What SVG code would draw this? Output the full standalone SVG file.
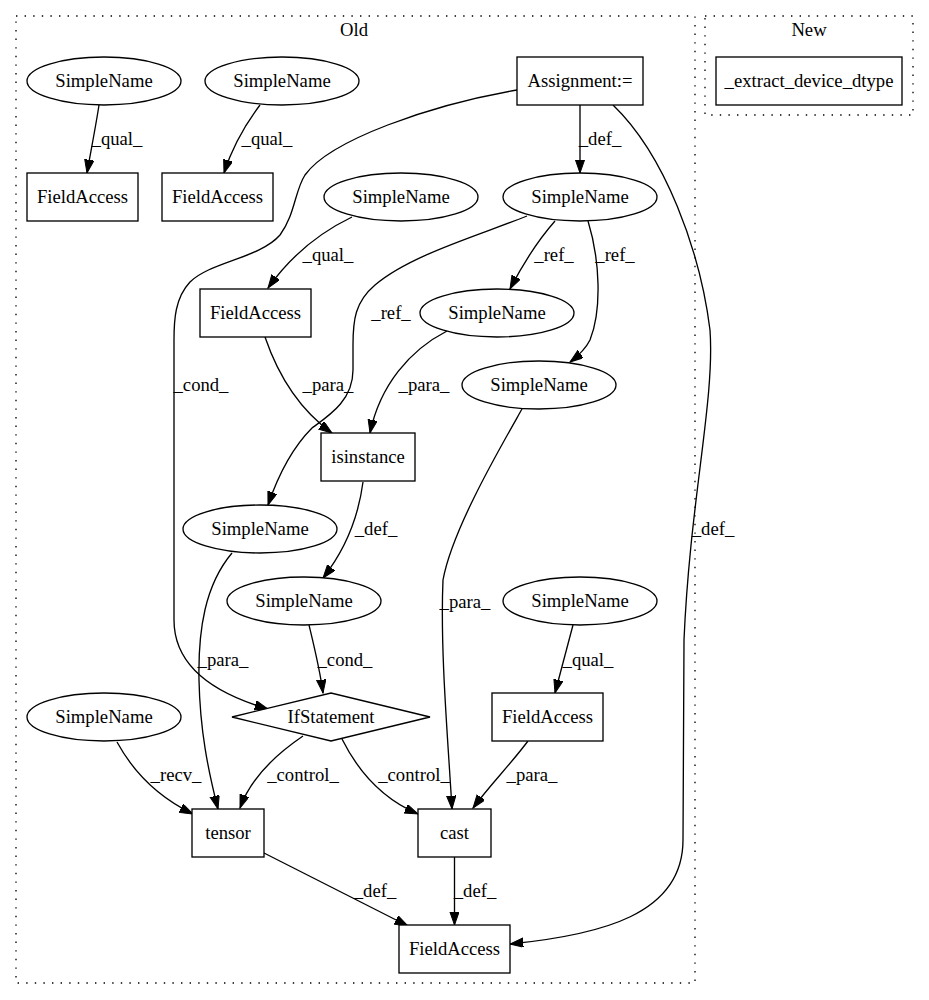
<svg xmlns="http://www.w3.org/2000/svg" width="929" height="1000" viewBox="0 0 929 1000">
<style>
text{text-anchor:middle}
.n{fill:#fff;stroke:#000;stroke-width:1.33}
.c{fill:none;stroke:#000;stroke-width:1.33;stroke-dasharray:1.4,7.2}
.e{fill:none;stroke:#000;stroke-width:1.33;marker-end:url(#ah)}
</style>
<defs>
<marker id="ah" markerWidth="15" markerHeight="11" refX="13.3" refY="4.67" orient="auto" markerUnits="userSpaceOnUse">
<path d="M0,0 L13.3,4.67 L0,9.33 z" fill="#000" stroke="#000" stroke-width="1"/>
</marker>
</defs>
<rect width="929" height="1000" fill="#fff"/>
<g font-family="'Liberation Serif', 'Times New Roman', serif" font-size="18.67" fill="#000">
<g id="cluster_old">
<rect class="c" x="16" y="16" width="679" height="967"/>
<text x="354" y="36">Old</text>
</g>
<g id="cluster_new">
<rect class="c" x="705" y="16" width="208" height="99"/>
<text x="809" y="36">New</text>
</g>
<g id="edges">
<path class="e" d="M99,105 C96,125 91,150 87,173"/>
<text x="117" y="145">_qual_</text>
<path class="e" d="M260,105 C245,125 233,145 224,173"/>
<text x="267" y="145">_qual_</text>
<path class="e" d="M580,105 L580,173"/>
<text x="600" y="145">_def_</text>
<path class="e" d="M517,90 C430,105 330,140 305,175 C295,190 295,215 280,235 C260,258 210,262 190,282 C175,298 174,320 174,340 L174,620 C174,670 220,695 268,709"/>
<text x="201" y="391">_cond_</text>
<path class="e" d="M613,105 C665,155 700,250 710,330 C715,400 690,500 684,640 L683,840 C683,915 600,935 510,944"/>
<text x="713" y="535">_def_</text>
<path class="e" d="M527,216 C480,235 410,255 375,285 C355,302 353,320 353,345 L353,370 C353,400 330,415 312,428 C295,445 280,470 268,505"/>
<text x="391" y="319">_ref_</text>
<path class="e" d="M555,221 C540,238 525,260 510,289"/>
<text x="554" y="261">_ref_</text>
<path class="e" d="M588,221 C600,260 602,310 590,340 C585,350 578,356 570,362"/>
<text x="615" y="261">_ref_</text>
<path class="e" d="M352,217 C325,230 295,250 268,288"/>
<text x="328" y="261">_qual_</text>
<path class="e" d="M265,337 C278,375 300,410 332,433"/>
<text x="328" y="391">_para_</text>
<path class="e" d="M447,331 C410,350 380,385 370,433"/>
<text x="424" y="391">_para_</text>
<path class="e" d="M522,409 C500,448 452,530 443,580 C440,650 448,740 452,809"/>
<text x="465" y="608">_para_</text>
<path class="e" d="M363,482 C358,520 345,550 323,578"/>
<text x="376" y="535">_def_</text>
<path class="e" d="M232,553 C205,585 198,630 199,680 C200,730 208,770 218,809"/>
<text x="223" y="666">_para_</text>
<path class="e" d="M309,625 C315,650 320,670 323,693"/>
<text x="345" y="666">_cond_</text>
<path class="e" d="M573,625 L555,693"/>
<text x="588" y="666">_qual_</text>
<path class="e" d="M117,742 C135,775 160,798 193,814"/>
<text x="176" y="781">_recv_</text>
<path class="e" d="M303,736 C275,755 250,780 240,808"/>
<text x="303" y="781">_control_</text>
<path class="e" d="M342,739 C360,775 385,800 418,814"/>
<text x="414" y="781">_control_</text>
<path class="e" d="M528,741 C510,765 490,785 473,808"/>
<text x="532" y="781">_para_</text>
<path class="e" d="M264,853 L408,926"/>
<text x="375" y="897">_def_</text>
<path class="e" d="M454.5,857 L454.5,925"/>
<text x="475" y="897">_def_</text>
</g>
<g id="sn1"><ellipse class="n" cx="104" cy="81" rx="77" ry="24"/><text x="104" y="87">SimpleName</text></g>
<g id="sn2"><ellipse class="n" cx="282" cy="81" rx="77" ry="24"/><text x="282" y="87">SimpleName</text></g>
<g id="fa1"><rect class="n" x="27" y="173" width="111" height="48"/><text x="82.5" y="203">FieldAccess</text></g>
<g id="fa2"><rect class="n" x="162" y="173" width="111" height="48"/><text x="217.5" y="203">FieldAccess</text></g>
<g id="assign"><rect class="n" x="517" y="57" width="126" height="48"/><text x="580" y="87">Assignment:=</text></g>
<g id="extract"><rect class="n" x="716" y="57" width="186" height="48"/><text x="809" y="87">_extract_device_dtype</text></g>
<g id="sn3"><ellipse class="n" cx="401" cy="197" rx="77" ry="24"/><text x="401" y="203">SimpleName</text></g>
<g id="snmain"><ellipse class="n" cx="580" cy="197" rx="77" ry="24"/><text x="580" y="203">SimpleName</text></g>
<g id="fa3"><rect class="n" x="200" y="289" width="111" height="48"/><text x="255.5" y="319">FieldAccess</text></g>
<g id="sn4"><ellipse class="n" cx="497" cy="313" rx="77" ry="24"/><text x="497" y="319">SimpleName</text></g>
<g id="sn5"><ellipse class="n" cx="539" cy="385" rx="77" ry="24"/><text x="539" y="391">SimpleName</text></g>
<g id="isinstance"><rect class="n" x="321" y="433" width="94" height="48"/><text x="368" y="463">isinstance</text></g>
<g id="sn6"><ellipse class="n" cx="260" cy="529" rx="77" ry="24"/><text x="260" y="535">SimpleName</text></g>
<g id="sn7"><ellipse class="n" cx="304" cy="601" rx="77" ry="24"/><text x="304" y="607">SimpleName</text></g>
<g id="sn8"><ellipse class="n" cx="580" cy="601" rx="77" ry="24"/><text x="580" y="607">SimpleName</text></g>
<g id="ifstmt"><polygon class="n" points="232,717 331,693 430,717 331,741"/><text x="331" y="723">IfStatement</text></g>
<g id="sn9"><ellipse class="n" cx="104" cy="717" rx="77" ry="24"/><text x="104" y="723">SimpleName</text></g>
<g id="fa4"><rect class="n" x="492" y="693" width="111" height="48"/><text x="547.5" y="723">FieldAccess</text></g>
<g id="tensor"><rect class="n" x="192" y="809" width="72" height="48"/><text x="228" y="839">tensor</text></g>
<g id="cast"><rect class="n" x="418" y="809" width="73" height="48"/><text x="454.5" y="839">cast</text></g>
<g id="fa5"><rect class="n" x="399" y="925" width="111" height="48"/><text x="454.5" y="955">FieldAccess</text></g>
</g>
</svg>
